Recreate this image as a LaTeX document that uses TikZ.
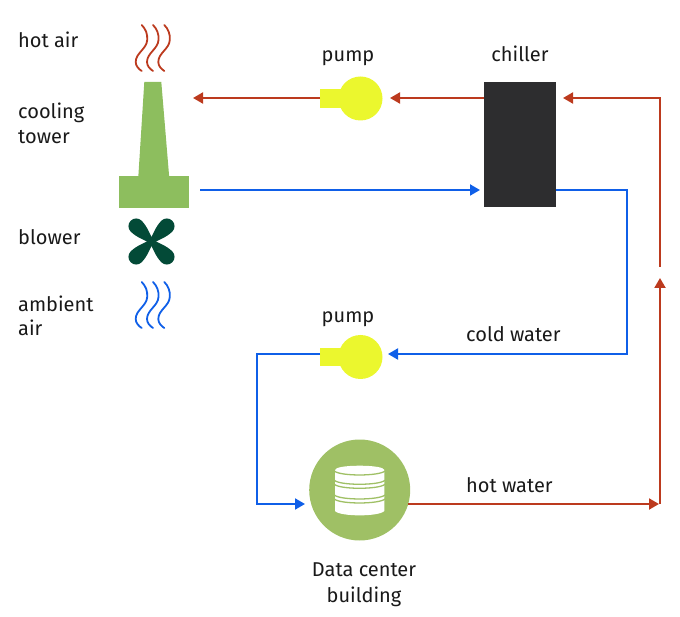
\documentclass[tikz,border=0pt]{standalone}
\usepackage{fontspec}
\setmainfont{Fira Sans}
\usetikzlibrary{arrows.meta}
\definecolor{hotc}{HTML}{BC3A1E}
\definecolor{coldc}{HTML}{0F5FE8}
\definecolor{towerc}{HTML}{8DBE5E}
\definecolor{dcc}{HTML}{9FC065}
\definecolor{pumpc}{HTML}{EBF72E}
\definecolor{fanc}{HTML}{034A37}
\definecolor{chillc}{HTML}{2D2D2F}
\tikzset{
  lbl/.style={inner sep=0pt,font=\fontsize{20}{24}\selectfont,text=black!90},
  lbll/.style={lbl,anchor=base west},
  lblc/.style={lbl,anchor=base},
  hotline/.style={draw=hotc,line width=2pt,-{Triangle[length=10pt,width=11pt]}},
  coldline/.style={draw=coldc,line width=2pt,-{Triangle[length=10pt,width=11pt]}},
  pumpbody/.style={circle,fill=pumpc,minimum size=44pt,inner sep=0pt},
  pumpneck/.style={rectangle,fill=pumpc,minimum width=25pt,minimum height=18.5pt,inner sep=0pt,anchor=west},
  wave/.style={line width=1.8pt,line cap=round},
  box/.style={rectangle,inner sep=0pt},
  disc/.style={draw=dcc,line width=1.3pt}
}
\newcommand{\wavepath}[3]{%
  \draw[wave,#3,shift={(#1,#2)}] (0,0) .. controls (4,4) and (6,9) .. (5.5,15)
    .. controls (5,24) and (-6,28) .. (-6,37)
    .. controls (-6,41) and (-3,44) .. (0,46);}
\newcommand{\discarc}[1]{%
  \draw[disc] (334.3,#1) .. controls (340,#1+5.3) and (379,#1+5.3) .. (385,#1);}
\begin{document}
\begin{tikzpicture}[x=1pt,y=-1pt]
\useasboundingbox (0,0) rectangle (680,617);

% cooling tower
\node[box,fill=towerc,minimum width=70.5pt,minimum height=32pt] (towerbase) at (153.8,192.5) {};
\fill[towerc] (144.3,82) -- (161.3,82) -- (169.2,177) -- (138.3,177) -- cycle;

% blower
\node[circle,fill=fanc,minimum size=7pt,inner sep=0pt] (fan) at (151.5,241.5) {};
\foreach \a in {45,135,225,315}{
  \begin{scope}[shift={(151.5,241.5)},rotate=\a]
  \fill[fanc] (0,-2.5) .. controls (6,-3.5) and (13,-7.7) .. (21.7,-7.7)
    .. controls (25.95,-7.7) and (29.4,-4.25) .. (29.4,0)
    .. controls (29.4,4.25) and (25.95,7.7) .. (21.7,7.7)
    .. controls (13,7.7) and (6,3.5) .. (0,2.5) -- cycle;
  \end{scope}
}

% waves
\foreach \d in {0,11.3,22.6}{
  \wavepath{141.7+\d}{25}{hotc}
  \wavepath{141.7+\d}{282}{coldc}
}

% chiller
\node[box,fill=chillc,minimum width=72pt,minimum height=125pt] (chiller) at (520,144.5) {};

% pumps
\node[pumpneck] (neckA) at (320,98.5) {};
\node[pumpbody] (pumpA) at (360.5,98.5) {};
\node[pumpneck] (neckB) at (320,357) {};
\node[pumpbody] (pumpB) at (360.5,357) {};

% data center
\node[circle,fill=dcc,minimum size=101pt,inner sep=0pt] (dc) at (359.7,490) {};
\fill[white] (335,470) .. controls (335,467.5) and (345,465.7) .. (359.7,465.7)
  .. controls (374,465.7) and (384.3,467.5) .. (384.3,470)
  -- (384.3,511) .. controls (379,516.8) and (340,516.8) .. (335,511) -- cycle;
\discarc{471}
\discarc{480.3}
\discarc{484.3}
\discarc{495}
\discarc{499}

% free ends
\coordinate (cA) at (193,98);
\coordinate (cB) at (390,98);
\coordinate (cC) at (200,190);
\coordinate (cD) at (480,190);
\coordinate (cE) at (627,190.5);
\coordinate (cF) at (627,354);
\coordinate (cG) at (388,354);
\coordinate (cH) at (257,354);
\coordinate (cI) at (257,504);
\coordinate (cJ) at (305,504);
\coordinate (cK) at (659,504);
\coordinate (cL) at (660,504);
\coordinate (cM) at (660,278);
\coordinate (cN) at (660,267);
\coordinate (cO) at (660,98);
\coordinate (cP) at (563,98);

% connectors
\draw[hotline] (chiller.west |- cB) -- (cB);
\draw[hotline] (neckA.west |- cA) -- (cA);
\draw[coldline] (cC) -- (cD);
\draw[coldline] (chiller.east |- cE) -- (cE) -- (cF) -- (cG);
\draw[coldline] (neckB.west |- cH) -- (cH) -- (cI) -- (cJ);
\draw[hotline] (dc.east |- cK) ++(-2,0) -- (cK);
\draw[hotline] (cL) -- (cM);
\draw[hotline] (cN) -- (cO) -- (cP);

% labels
\node[lbll] (t1) at (18,48) {hot air};
\node[lbll] (t2) at (18,119) {cooling};
\node[lbll] (t3) at (18,144) {tower};
\node[lbll] (t4) at (18,245) {blower};
\node[lbll] (t5) at (18,312) {ambient};
\node[lbll] (t6) at (18,336) {air};
\node[lblc] (t7) at (348,62) {pump};
\node[lblc] (t8) at (520,62) {chiller};
\node[lblc] (t9) at (348,323) {pump};
\node[lbll] (t10) at (466,342) {cold water};
\node[lbll] (t11) at (466,492) {hot water};
\node[lblc] (t12) at (364,576) {Data center};
\node[lblc] (t13) at (364,602) {building};
\end{tikzpicture}
\end{document}
